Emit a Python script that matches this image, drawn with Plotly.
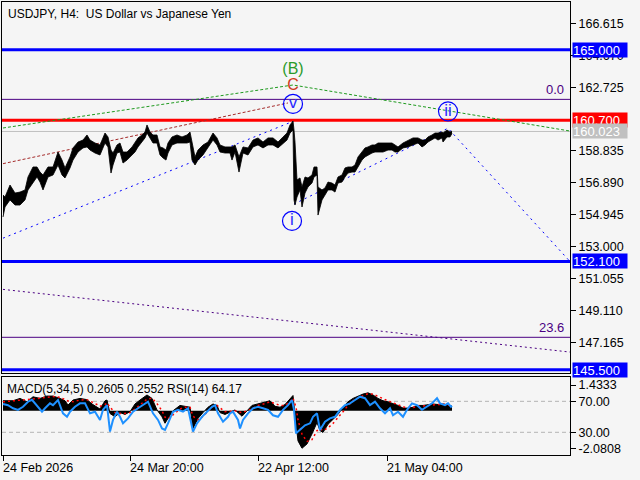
import plotly.graph_objects as go

# ---------------- price data (H4 bars, sampled) ----------------
bars = [0, 2, 7, 12, 17, 22, 25, 30, 34, 37,
        40, 45, 50, 55, 59, 62, 67, 70, 75, 80,
        84, 87, 92, 97, 102, 105, 108, 110, 114, 117,
        120, 124, 129, 132, 135, 139, 142, 144, 147, 150,
        154, 157, 160, 163, 165, 169, 174, 179, 184, 187,
        189, 192, 195, 200, 205, 210, 214, 217, 222, 227,
        229, 232, 236, 240, 245, 250, 255, 260, 265, 270,
        275, 280, 284, 287, 290, 291, 292, 294, 297, 299,
        302, 305, 309, 311, 314, 315, 319, 322, 325, 329,
        332, 335, 339, 342, 345, 349, 352, 355, 359, 362,
        365, 369, 372, 375, 380, 385, 389, 392, 395, 400,
        405, 410, 415, 419, 422, 425, 429, 432, 435, 439,
        440, 444, 447, 449]
highs = [156.15, 156.03, 156.76, 156.27, 156.33, 156.46, 157.25, 157.86, 157.86, 157.55,
         157.37, 157.86, 157.86, 158.77, 158.28, 157.80, 158.47, 159.02, 159.38, 159.50,
         159.81, 159.50, 159.32, 159.20, 159.93, 159.69, 158.89, 158.71, 159.20, 159.32,
         158.77, 158.77, 159.08, 159.38, 159.63, 159.81, 159.99, 160.42, 159.99, 159.81,
         159.81, 159.08, 159.02, 158.89, 159.32, 159.69, 159.81, 159.69, 159.81, 159.99,
         159.38, 158.47, 158.89, 159.20, 159.38, 159.93, 159.63, 159.20, 159.08, 159.08,
         159.08, 159.20, 158.47, 159.08, 159.02, 159.50, 159.63, 159.38, 159.63, 159.63,
         159.38, 159.69, 159.93, 160.42, 160.66, 160.11, 159.38, 157.07, 157.19, 156.64,
         157.25, 157.19, 157.37, 157.86, 157.86, 156.64, 156.46, 156.58, 156.94, 156.88,
         156.76, 157.25, 157.37, 157.80, 157.86, 157.86, 157.98, 158.47, 158.77, 159.02,
         159.08, 159.20, 159.20, 159.32, 159.32, 159.32, 159.32, 159.20, 159.08, 159.32,
         159.50, 159.63, 159.63, 159.50, 159.50, 159.69, 159.81, 159.93, 159.93, 159.99,
         159.93, 160.11, 159.99, 160.05]
lows = [154.81, 155.42, 155.85, 155.54, 155.54, 155.85, 156.46, 156.94, 157.25, 156.94,
        156.46, 157.25, 157.37, 157.98, 157.37, 157.19, 157.80, 158.28, 158.77, 159.02,
        159.08, 158.89, 158.71, 158.59, 159.32, 159.08, 157.49, 157.98, 158.71, 158.77,
        158.10, 158.28, 158.59, 158.77, 159.08, 159.38, 159.63, 159.93, 159.63, 159.32,
        159.32, 158.59, 158.41, 158.28, 158.71, 159.20, 159.32, 159.32, 159.32, 159.38,
        158.28, 157.98, 158.28, 158.59, 159.02, 159.50, 159.20, 158.77, 158.71, 158.71,
        158.28, 158.77, 157.55, 158.71, 158.59, 159.08, 159.20, 159.02, 159.20, 159.20,
        159.02, 159.32, 159.50, 159.93, 160.11, 155.85, 155.54, 156.03, 156.46, 155.42,
        156.27, 156.64, 156.88, 157.25, 157.37, 154.93, 155.85, 156.15, 156.46, 156.46,
        156.33, 156.88, 156.94, 157.25, 157.49, 157.55, 157.55, 157.86, 158.28, 158.47,
        158.59, 158.71, 158.77, 158.77, 158.77, 158.89, 158.89, 158.77, 158.77, 159.02,
        159.08, 159.20, 159.32, 159.08, 159.20, 159.38, 159.50, 159.63, 159.50, 159.63,
        159.38, 159.69, 159.69, 159.90]

# ---------------- indicator data ----------------
macd_bars = [0, 10, 17, 24, 30, 37, 44, 50, 57, 62,
             65, 70, 77, 84, 89, 94, 97, 102, 104, 107,
             112, 117, 122, 127, 132, 137, 144, 149, 154, 159,
             162, 165, 170, 177, 182, 187, 190, 195, 200, 205,
             210, 214, 217, 222, 232, 239, 249, 255, 262, 267,
             272, 277, 282, 287, 290, 293, 295, 299, 304, 309,
             314, 317, 320, 325, 330, 335, 340, 345, 350, 355,
             360, 365, 370, 375, 380, 385, 390, 395, 400, 405,
             410, 415, 420, 425, 430, 435, 440, 445, 449]
macd_hist = [0.56, 0.56, 0.69, 0.50, 0.78, 0.69, 0.82, 0.82, 0.69, 0.56,
             0.32, 0.60, 0.69, 0.62, 0.38, 0.22, 0.10, 0.56, 0.60, -0.15,
             -0.33, -0.10, -0.20, -0.05, 0.38, 0.60, 0.88, 0.69, 0.05, -0.33,
             -0.69, -0.42, 0.00, 0.30, 0.25, 0.20, -0.98, -0.42, -0.10, 0.20,
             0.38, 0.30, -0.10, -0.20, 0.05, -0.30, 0.30, 0.40, 0.50, 0.56,
             0.25, 0.20, 0.35, 0.69, 0.85, -0.73, -1.67, -2.08, -1.84, -1.28,
             -0.65, -1.10, -1.20, -0.75, -0.45, -0.20, 0.20, 0.50, 0.69, 0.82,
             0.93, 1.00, 0.88, 0.69, 0.56, 0.50, 0.40, 0.30, 0.15, 0.15,
             0.20, 0.30, 0.30, 0.35, 0.38, 0.35, 0.38, 0.32, 0.26]
macd_signal = [0.50, 0.55, 0.60, 0.60, 0.65, 0.70, 0.75, 0.80, 0.75, 0.65,
               0.55, 0.50, 0.60, 0.62, 0.50, 0.35, 0.25, 0.35, 0.45, 0.20,
               -0.10, -0.15, -0.15, -0.10, 0.10, 0.35, 0.65, 0.70, 0.40, 0.00,
               -0.35, -0.45, -0.20, 0.10, 0.20, 0.20, -0.30, -0.50, -0.30, 0.00,
               0.25, 0.30, 0.15, -0.05, 0.00, -0.10, 0.10, 0.30, 0.40, 0.50,
               0.40, 0.30, 0.30, 0.50, 0.70, 0.20, -0.50, -1.30, -1.70, -1.60,
               -1.10, -1.00, -1.10, -0.95, -0.70, -0.40, -0.05, 0.30, 0.55, 0.72,
               0.85, 0.95, 0.93, 0.80, 0.65, 0.55, 0.45, 0.35, 0.22, 0.18,
               0.18, 0.25, 0.28, 0.32, 0.35, 0.36, 0.37, 0.34, 0.255]

rsi_bars = [0, 5, 10, 15, 20, 25, 29, 34, 39, 42,
            47, 50, 55, 60, 64, 67, 72, 77, 82, 87,
            92, 97, 100, 104, 107, 110, 114, 117, 120, 125,
            130, 135, 140, 145, 150, 155, 159, 162, 165, 170,
            175, 180, 185, 190, 194, 199, 204, 209, 212, 215,
            220, 225, 227, 230, 235, 237, 240, 245, 250, 255,
            260, 265, 270, 275, 280, 285, 289, 291, 293, 297,
            302, 307, 310, 314, 317, 322, 327, 332, 337, 342,
            347, 352, 357, 362, 367, 372, 377, 382, 387, 390,
            395, 400, 404, 409, 414, 419, 424, 429, 434, 437,
            442, 445, 448, 449]
rsi_vals = [66.5, 65, 61, 59, 63, 69.5, 72, 65, 56.6, 61,
            67.4, 65, 71.7, 54.5, 50, 56.6, 63, 67.4, 67.4, 54.5,
            56.6, 46, 59, 65, 31, 46, 56.6, 50, 41.6, 48,
            56.6, 61, 65, 69.5, 54.5, 46, 35, 33, 41.6, 56.6,
            59, 56.6, 61, 31, 41.6, 50, 56.6, 63, 65, 54.5,
            43.7, 50, 54.5, 56.6, 46, 35, 46, 54.5, 61, 63,
            61, 59, 52, 50, 59, 65, 71.7, 59, 28.7, 33,
            39, 41.6, 50, 54.5, 33, 43.7, 48, 50, 59, 65,
            67.4, 71.7, 76, 74, 65, 69.5, 61, 54.5, 61, 52,
            56.6, 50, 59, 67.4, 65, 59, 63, 67.4, 74, 67.4,
            65, 67.4, 63, 64.17]

# ---------------- levels, wave lines, labels ----------------
price_ticks = [166.615, 164.670, 162.725, 158.835, 156.890,
               154.945, 153.000, 151.055, 149.110, 147.165]
blue_levels = [165.000, 152.100, 145.500]
red_level = 160.700
bid_price = 160.023
fib_levels = [161.98, 147.48]
fib_texts = ["0.0", "23.6"]

green_bars, green_prices = [0, 290, 567], [160.235, 162.855, 160.05]
brown_bars, brown_prices = [0, 285], [158.06, 161.76]
blue1_bars, blue1_prices = [0, 290], [153.52, 160.64]
blue2_bars, blue2_prices = [291, 445, 567], [155.60, 160.22, 152.10]
purple_bars, purple_prices = [0, 567], [150.40, 146.58]

circle_bars = [290, 289, 445]
circle_prices = [161.70, 154.57, 161.25]
circle_texts = ["v", "i", "ii"]
letter_bars = [290, 290]
letter_prices = [163.74, 162.77]
letter_texts = ["(B)", "C"]

tick_bars = [0, 127, 255, 384]
tick_labels = ["24 Feb 2026", "24 Mar 20:00", "22 Apr 12:00", "21 May 04:00"]

macd_ticks = [1.4333, -2.0808]
rsi_ticks = [70, 30]

FONT = "Liberation Sans"
BG = "#f5f5f5"

fig = go.Figure()

# wave / trend lines
def dline(xs, ys, color, dash, width=1):
    fig.add_trace(go.Scatter(x=xs, y=ys, mode="lines", xaxis="x", yaxis="y",
                             line=dict(color=color, width=width, dash=dash),
                             hoverinfo="skip", showlegend=False))

dline(green_bars, green_prices, "#1e9a1e", "3px,2px")
dline(brown_bars, brown_prices, "#a52a2a", "3px,2px")
dline(blue1_bars, blue1_prices, "#0000ff", "2px,4px")
dline(blue2_bars, blue2_prices, "#0000ff", "2px,4px")
dline(purple_bars, purple_prices, "#4b0082", "2px,3px")

# price ribbon (high/low)
fig.add_trace(go.Scatter(x=bars, y=lows, mode="lines", xaxis="x", yaxis="y",
                         line=dict(color="black", width=0.8),
                         hoverinfo="skip", showlegend=False))
fig.add_trace(go.Scatter(x=bars, y=highs, mode="lines", xaxis="x", yaxis="y",
                         line=dict(color="black", width=0.8),
                         fill="tonexty", fillcolor="black",
                         hoverinfo="skip", showlegend=False))

# wave circles
fig.add_trace(go.Scatter(x=circle_bars, y=circle_prices, mode="markers+text",
                         xaxis="x", yaxis="y", text=circle_texts,
                         textposition="middle center",
                         textfont=dict(family=FONT, size=17, color="#2a2aff"),
                         marker=dict(symbol="circle-open", size=19,
                                     color="#0000ff", line=dict(width=1.2, color="#0000ff")),
                         hoverinfo="skip", showlegend=False))
fig.add_trace(go.Scatter(x=letter_bars, y=letter_prices, mode="text",
                         xaxis="x", yaxis="y", text=letter_texts,
                         textposition="middle center",
                         textfont=dict(family=FONT, size=16, color=["#2a9a2a", "#d03a20"]),
                         hoverinfo="skip", showlegend=False))

# MACD histogram and signal
fig.add_trace(go.Scatter(x=macd_bars, y=macd_hist, mode="lines", xaxis="x2", yaxis="y2",
                         line=dict(color="black", width=1), fill="tozeroy",
                         fillcolor="black", hoverinfo="skip", showlegend=False))
fig.add_trace(go.Scatter(x=macd_bars, y=macd_signal, mode="lines", xaxis="x2", yaxis="y2",
                         line=dict(color="#ff0000", width=1.5, dash="2px,3px"),
                         hoverinfo="skip", showlegend=False))
# RSI
fig.add_trace(go.Scatter(x=rsi_bars, y=rsi_vals, mode="lines", xaxis="x2", yaxis="y3",
                         line=dict(color="#1e90ff", width=2),
                         hoverinfo="skip", showlegend=False))

shapes = []
for lv in blue_levels:
    shapes.append(dict(type="line", xref="paper", x0=0, x1=1, yref="y", y0=lv, y1=lv,
                       line=dict(color="#0000ff", width=3), layer="below"))
shapes.append(dict(type="line", xref="paper", x0=0, x1=1, yref="y", y0=red_level, y1=red_level,
                   line=dict(color="#ff0000", width=3), layer="below"))
shapes.append(dict(type="line", xref="paper", x0=0, x1=1, yref="y", y0=bid_price, y1=bid_price,
                   line=dict(color="#c0c0c0", width=1), layer="below"))
for lv in fib_levels:
    shapes.append(dict(type="line", xref="paper", x0=0, x1=1, yref="y", y0=lv, y1=lv,
                       line=dict(color="#4b0082", width=1), layer="below"))
for lv in rsi_ticks:
    shapes.append(dict(type="line", xref="paper", x0=0, x1=1, yref="y3", y0=lv, y1=lv,
                       line=dict(color="#b4b4b4", width=1, dash="4px,3px"), layer="below"))

annotations = []
annotations.append(dict(text="USDJPY, H4:\u00a0 US Dollar vs Japanese Yen", xref="paper", yref="paper",
                        x=0, y=1, xanchor="left", yanchor="top", xshift=4, yshift=-3,
                        showarrow=False, font=dict(family=FONT, size=12, color="black")))
annotations.append(dict(text="MACD(5,34,5) 0.2605 0.2552 RSI(14) 64.17", xref="paper", yref="paper",
                        x=0, y=0.1722, xanchor="left", yanchor="top", xshift=3, yshift=-3,
                        showarrow=False, font=dict(family=FONT, size=12, color="black")))

def price_box(val, bg):
    annotations.append(dict(text=f"{val:.3f}", xref="paper", yref="y", x=1, y=val,
                            xanchor="left", yanchor="middle", xshift=2, showarrow=False,
                            bgcolor=bg, borderpad=0, width=54, height=14, align="left",
                            font=dict(family=FONT, size=13, color="white")))

for lv in blue_levels:
    price_box(lv, "#0000ff")
price_box(red_level, "#ff0000")
price_box(bid_price, "#c0c0c0")

for lv, t in zip(fib_levels, fib_texts):
    annotations.append(dict(text=t, xref="paper", yref="y", x=1, y=lv, xanchor="right",
                            yanchor="bottom", xshift=-4, yshift=0, showarrow=False,
                            font=dict(family=FONT, size=13, color="#4b0082")))

for b, t in zip(tick_bars, tick_labels):
    annotations.append(dict(text=t, xref="x2", yref="paper", x=b, y=0, xanchor="left",
                            yanchor="top", xshift=-2, yshift=-4, showarrow=False,
                            font=dict(family=FONT, size=12.5, color="black")))

axis_font = dict(family=FONT, size=12.5, color="black")
xcommon = dict(range=[-1, 567], showgrid=False, zeroline=False, showline=True, mirror=True,
               linecolor="black", linewidth=1)

fig.update_layout(
    width=640, height=480,
    margin=dict(l=2, r=70, t=2, b=25),
    paper_bgcolor=BG, plot_bgcolor=BG,
    showlegend=False, hovermode=False,
    xaxis=dict(domain=[0, 1], anchor="y", showticklabels=False, ticks="", **xcommon),
    yaxis=dict(domain=[0.181, 1], anchor="x", side="right", range=[145.304, 167.913],
               tickvals=price_ticks, ticktext=[f"{v:.3f}" for v in price_ticks],
               ticks="outside", ticklen=5, tickcolor="black", tickfont=axis_font,
               showgrid=False, zeroline=False, showline=True, mirror=True,
               linecolor="black", linewidth=1),
    xaxis2=dict(domain=[0, 1], anchor="y2", tickvals=tick_bars, ticktext=[""] * len(tick_bars),
                ticks="outside", ticklen=5, tickcolor="black", **xcommon),
    yaxis2=dict(domain=[0, 0.1722], anchor="x2", side="right", range=[-2.454, 1.879],
                tickvals=macd_ticks, ticktext=["1.4333", "-2.0808"],
                ticks="outside", ticklen=5, tickcolor="black", tickfont=axis_font,
                showgrid=False, zeroline=False, showline=True, mirror=True,
                linecolor="black", linewidth=1),
    yaxis3=dict(overlaying="y2", anchor="x2", side="right", range=[0.7, 101.4],
                tickvals=rsi_ticks, ticktext=["70.00", "30.00"],
                ticks="outside", ticklen=5, tickcolor="black", tickfont=axis_font,
                showgrid=False, zeroline=False, showline=False),
    shapes=shapes,
    annotations=annotations,
)

fig.write_html("out.html", config={"displayModeBar": False},
               post_script="document.body.style.margin='0px';document.body.style.background='#f5f5f5';")
